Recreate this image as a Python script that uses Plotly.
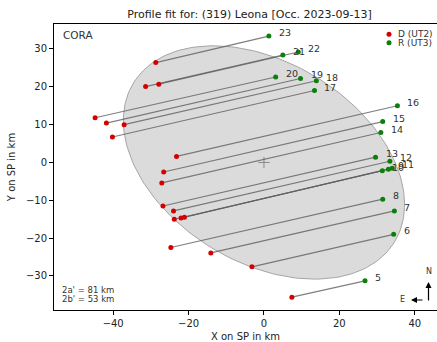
import numpy as np
import plotly.graph_objects as go

# ---- data ----
chord_ids = ["5", "6", "7", "8", "9", "10", "11", "12", "13", "14", "15", "16",
             "17", "18", "19", "20", "21", "22", "23"]
d_x = [7.4, -3.2, -14.1, -24.7, -22.0, -23.8, -21.1, -24.0, -26.8, -27.1, -26.6, -23.2,
       -40.2, -37.1, -41.8, -44.8, -31.4, -27.9, -28.7]
d_y = [-35.6, -27.6, -23.9, -22.5, -14.7, -15.0, -14.5, -12.8, -11.5, -5.4, -2.5, 1.6,
       6.75, 10.0, 10.4, 11.8, 20.05, 20.7, 26.4]
r_x = [26.8, 34.4, 34.6, 31.5, 33.0, 31.4, 34.0, 33.4, 29.6, 31.0, 31.5, 35.4,
       13.4, 13.9, 9.7, 3.1, 5.0, 9.1, 1.3]
r_y = [-31.3, -19.0, -12.8, -9.7, -1.8, -2.2, -1.5, 0.3, 1.4, 7.9, 10.8, 15.0,
       19.0, 21.6, 22.2, 22.6, 28.4, 29.2, 33.4]

ellipse_major = 81.0   # 2a' km
ellipse_minor = 53.0   # 2b' km
ellipse_angle = -31.0  # deg
ellipse_center = [0.0, 0.0]

x_ticks = [-40, -20, 0, 20, 40]
y_ticks = [-30, -20, -10, 0, 10, 20, 30]

W, H = 437, 342
ML, MR, MT, MB = 54, 0, 24, 32
PW, PH = W - ML - MR, H - MT - MB

def px(xp):
    return (xp - ML) / PW

def py(yp):
    return (H - MB - yp) / PH

fig = go.Figure()

# ellipse
t = np.linspace(0, 2 * np.pi, 200)
a, b = ellipse_major / 2, ellipse_minor / 2
th = np.deg2rad(ellipse_angle)
ex = ellipse_center[0] + a * np.cos(t) * np.cos(th) - b * np.sin(t) * np.sin(th)
ey = ellipse_center[1] + a * np.cos(t) * np.sin(th) + b * np.sin(t) * np.cos(th)
fig.add_trace(go.Scatter(x=ex, y=ey, mode="lines", fill="toself",
                         fillcolor="#dbdbdb", line=dict(color="#a5a5a5", width=1),
                         hoverinfo="skip", showlegend=False))
fig.add_trace(go.Scatter(x=[ellipse_center[0]], y=[ellipse_center[1]], mode="markers",
                         marker=dict(symbol="cross-thin", size=8,
                                     line=dict(color="#888888", width=1)),
                         showlegend=False))

# chords
lx, ly = [], []
for i in range(len(chord_ids)):
    lx += [d_x[i], r_x[i], None]
    ly += [d_y[i], r_y[i], None]
fig.add_trace(go.Scatter(x=lx, y=ly, mode="lines",
                         line=dict(color="rgba(95,95,95,0.8)", width=1.1),
                         showlegend=False))
fig.add_trace(go.Scatter(x=d_x, y=d_y, mode="markers", name="D (UT2)",
                         marker=dict(color="#d40000", size=5), showlegend=False))
fig.add_trace(go.Scatter(x=r_x, y=r_y, mode="markers", name="R (UT3)",
                         marker=dict(color="#0a7f0a", size=5), showlegend=False))

annotations = []
for i, cid in enumerate(chord_ids):
    annotations.append(dict(x=r_x[i], y=r_y[i], text=cid, showarrow=False,
                            xanchor="left", yanchor="middle", xshift=8, yshift=3.5,
                            font=dict(size=9.5, color="#333333")))

# legend (manual)
legend_items = [("D (UT2)", "#d40000", 34.3), ("R (UT3)", "#0a7f0a", 42.7)]
shapes = []
for name, col, yp in legend_items:
    shapes.append(dict(type="circle", xref="paper", yref="paper",
                       xsizemode="pixel", ysizemode="pixel",
                       xanchor=px(389), yanchor=py(yp),
                       x0=-2.5, x1=2.5, y0=-2.5, y1=2.5,
                       fillcolor=col, line=dict(width=0)))
    annotations.append(dict(x=px(396), y=py(yp), xref="paper", yref="paper",
                            text=name, showarrow=False, xanchor="left", yanchor="middle",
                            font=dict(size=9, color="#333333")))

annotations += [
    dict(x=px(61), y=py(35.3), xref="paper", yref="paper", text="CORA",
         showarrow=False, xanchor="left", yanchor="middle",
         font=dict(size=10.5, color="#333333")),
    dict(x=px(60), y=py(289.5), xref="paper", yref="paper", text="2a' = 81 km",
         showarrow=False, xanchor="left", yanchor="middle",
         font=dict(size=8.5, color="#333333")),
    dict(x=px(60), y=py(299.2), xref="paper", yref="paper", text="2b' = 53 km",
         showarrow=False, xanchor="left", yanchor="middle",
         font=dict(size=8.5, color="#333333")),
    # north arrow
    dict(x=px(428.5), y=py(282), xref="paper", yref="paper", ax=0, ay=20,
         text="", showarrow=True, arrowhead=2, arrowsize=1, arrowwidth=1.2,
         arrowcolor="black"),
    dict(x=px(428.5), y=py(271.5), xref="paper", yref="paper", text="N",
         showarrow=False, xanchor="center", yanchor="middle",
         font=dict(size=8, color="#333333")),
    # east arrow
    dict(x=px(411), y=py(300), xref="paper", yref="paper", ax=13, ay=0,
         text="", showarrow=True, arrowhead=2, arrowsize=1, arrowwidth=1.2,
         arrowcolor="black"),
    dict(x=px(402), y=py(299.5), xref="paper", yref="paper", text="E",
         showarrow=False, xanchor="center", yanchor="middle",
         font=dict(size=8, color="#333333")),
]

fig.update_layout(
    width=W, height=H,
    margin=dict(l=ML, r=MR, t=MT, b=MB, pad=0),
    paper_bgcolor="white", plot_bgcolor="white",
    font=dict(family="DejaVu Sans", color="#222222"),
    title=dict(text="Profile fit for: (319) Leona [Occ. 2023-09-13]",
               x=249.5 / W, xanchor="center", y=1 - 14.5 / H, yanchor="middle",
               xref="container", yref="container",
               font=dict(size=11, color="#222222")),
    showlegend=False,
    annotations=annotations,
    shapes=shapes,
)
fig.update_xaxes(range=[-55.7, 45.9], tickvals=x_ticks, ticks="outside", ticklen=4,
                 tickcolor="black", showline=True, linecolor="black", linewidth=1,
                 mirror=True, showgrid=False, zeroline=False,
                 tickfont=dict(size=10, color="#222222"),
                 title=dict(text="X on SP in km", font=dict(size=10, color="#222222"),
                            standoff=4))
fig.update_yaxes(range=[-39.0, 36.6], tickvals=y_ticks, ticks="outside", ticklen=4,
                 tickcolor="black", showline=True, linecolor="black", linewidth=1,
                 mirror=False, showgrid=False, zeroline=False,
                 tickfont=dict(size=10, color="#222222"),
                 title=dict(text="Y on SP in km", font=dict(size=10, color="#222222"),
                            standoff=8))

fig.write_html("out.html", config={"displayModeBar": False},
               post_script="document.body.style.margin='0';document.body.style.overflow='hidden';")
